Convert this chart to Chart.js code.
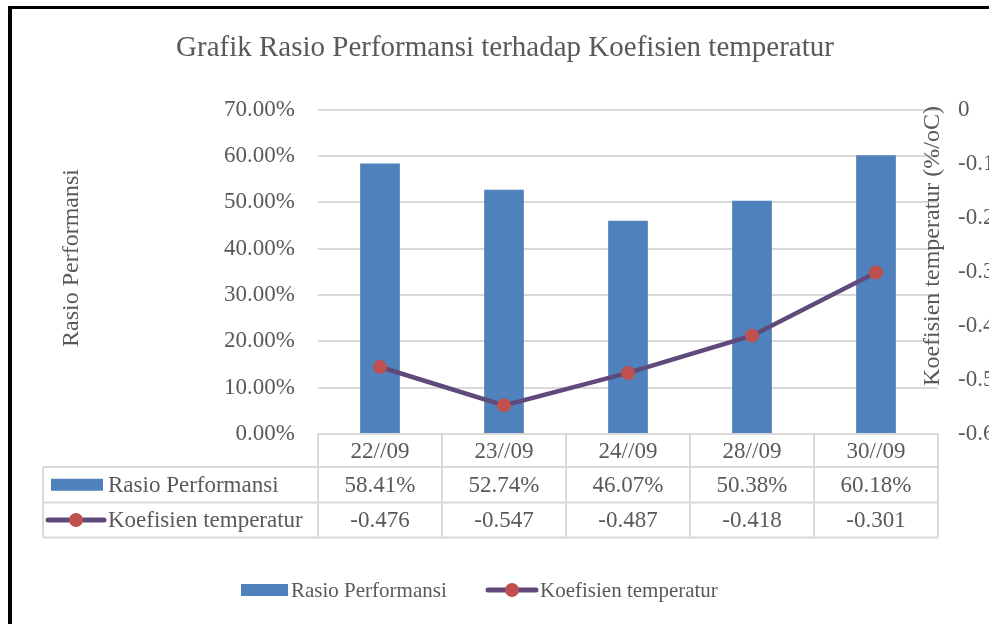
<!DOCTYPE html>
<html>
<head>
<meta charset="utf-8">
<script src="https://cdn.jsdelivr.net/npm/chart.js@4.4.1/dist/chart.umd.min.js"></script>
<style>
  html, body { margin: 0; padding: 0; background: #fff; overflow: hidden; }
  #wrap { position: relative; width: 1010px; height: 624px; }
  #frame { position: absolute; left: 8px; top: 6px; width: 1100px; height: 700px;
           border-left: 4px solid #000; border-top: 3px solid #000; pointer-events: none; }
</style>
</head>
<body>
<div id="wrap">
  <canvas id="place__graph1" width="1010" height="624"></canvas>
  <div id="frame"></div>
</div>
<script>
const categories = ['22//09', '23//09', '24//09', '28//09', '30//09'];
const rasioPerformansi = [58.41, 52.74, 46.07, 50.38, 60.18];
const koefisienTemperatur = [-0.476, -0.547, -0.487, -0.418, -0.301];
const leftTicks = [0, 10, 20, 30, 40, 50, 60, 70];
const rightTicks = [0, -0.1, -0.2, -0.3, -0.4, -0.5, -0.6];

const serif = "'Liberation Serif', 'Times New Roman', serif";
const grey = '#595959';
const gridGrey = '#d9d9d9';

// table under the plot + legend + axis titles, drawn by hand
const tablePlugin = {
    id: 'tablePlugin',
    afterDraw(chart) {
        const ctx = chart.ctx;
        const area = chart.chartArea;
        const xs = chart.scales.x;
        const n = categories.length;
        const colW = (area.right - area.left) / n;
        const top = area.bottom;
        const r1 = top + 33, r2 = r1 + 35.5, r3 = r2 + 35;
        const tableLeft = 43;

        ctx.save();
        ctx.strokeStyle = gridGrey;
        ctx.lineWidth = 2;
        ctx.beginPath();
        ctx.moveTo(area.left, top); ctx.lineTo(area.right, top);
        [r1, r2, r3].forEach(y => { ctx.moveTo(tableLeft, y); ctx.lineTo(area.right, y); });
        ctx.moveTo(tableLeft, r1); ctx.lineTo(tableLeft, r3);
        for (let i = 0; i <= n; i++) {
            const x = area.left + colW * i;
            ctx.moveTo(x, top); ctx.lineTo(x, r3);
        }
        ctx.stroke();

        ctx.fillStyle = grey;
        ctx.font = '23px ' + serif;
        ctx.textAlign = 'center';
        ctx.textBaseline = 'middle';
        categories.forEach((c, i) => {
            const cx = xs.getPixelForValue(i);
            ctx.fillText(c, cx, (top + r1) / 2 + 1);
            ctx.fillText(rasioPerformansi[i].toFixed(2) + '%', cx, (r1 + r2) / 2 + 1);
            ctx.fillText(koefisienTemperatur[i].toFixed(3), cx, (r2 + r3) / 2 + 1);
        });

        // row keys
        ctx.textAlign = 'left';
        ctx.fillStyle = '#4f81bd';
        ctx.fillRect(51, (r1 + r2) / 2 - 6, 52, 12);
        ctx.fillStyle = grey;
        ctx.fillText(chart.data.datasets[1].label, 108, (r1 + r2) / 2 + 1);
        drawLineKey(ctx, 48, 104, (r2 + r3) / 2);
        ctx.fillStyle = grey;
        ctx.fillText(chart.data.datasets[0].label, 108, (r2 + r3) / 2 + 1);

        // bottom legend
        const ly = 590;
        ctx.font = '21px ' + serif;
        ctx.fillStyle = '#4f81bd';
        ctx.fillRect(241, ly - 6, 47, 12);
        ctx.fillStyle = grey;
        ctx.fillText(chart.data.datasets[1].label, 291, ly + 1);
        drawLineKey(ctx, 488, 536, ly);
        ctx.fillStyle = grey;
        ctx.fillText(chart.data.datasets[0].label, 540, ly + 1);

        // axis titles (right one overlaps the plot like in the original)
        ctx.textAlign = 'center';
        ctx.save();
        ctx.font = '24px ' + serif;
        ctx.translate(72, 258);
        ctx.rotate(-Math.PI / 2);
        ctx.fillText('Rasio Performansi', 0, 0);
        ctx.restore();

        ctx.font = '24px ' + serif;
        ctx.translate(933, 246);
        ctx.rotate(-Math.PI / 2);
        ctx.fillText('Koefisien temperatur (%/oC)', 0, 0);
        ctx.restore();
    }
};

function drawLineKey(ctx, x0, x1, y) {
    ctx.save();
    ctx.strokeStyle = '#604a7b';
    ctx.lineWidth = 5;
    ctx.lineCap = 'round';
    ctx.beginPath();
    ctx.moveTo(x0, y); ctx.lineTo(x1, y);
    ctx.stroke();
    ctx.fillStyle = '#c0504d';
    ctx.beginPath();
    ctx.arc((x0 + x1) / 2, y, 7, 0, Math.PI * 2);
    ctx.fill();
    ctx.restore();
}

const ctx = document.getElementById('place__graph1').getContext('2d');
const chart = new Chart(ctx, {
    type: 'bar',
    data: {
        labels: categories,
        datasets: [{
            type: 'line',
            label: 'Koefisien temperatur',
            data: koefisienTemperatur,
            yAxisID: 'y1',
            borderColor: '#604a7b',
            borderWidth: 4.5,
            pointRadius: 7,
            pointBackgroundColor: '#c0504d',
            pointBorderColor: '#c0504d',
            pointBorderWidth: 0,
            tension: 0,
            order: 0
        }, {
            type: 'bar',
            label: 'Rasio Performansi',
            data: rasioPerformansi,
            yAxisID: 'y',
            backgroundColor: '#4f81bd',
            categoryPercentage: 1,
            barPercentage: 0.32,
            order: 1
        }]
    },
    options: {
        responsive: false,
        animation: false,
        layout: { padding: { top: 0, bottom: 0, left: 0, right: 0 } },
        plugins: {
            legend: { display: false },
            tooltip: { enabled: false },
            title: {
                display: true,
                text: 'Grafik Rasio Performansi terhadap Koefisien temperatur',
                color: grey,
                font: { family: serif, size: 29, weight: 'normal' },
                padding: { top: 31, bottom: 44 }
            }
        },
        scales: {
            x: {
                grid: { display: false },
                border: { color: gridGrey, width: 2 },
                ticks: { display: false },
                afterFit(scale) { scale.height = 190; }
            },
            y: {
                position: 'left',
                min: 0, max: 70,
                afterBuildTicks(scale) { scale.ticks = leftTicks.map(v => ({ value: v })); },
                grid: { color: gridGrey, lineWidth: 2, drawTicks: false },
                border: { display: false },
                ticks: {
                    color: grey, padding: 23,
                    font: { family: serif, size: 23 },
                    callback: v => v.toFixed(2) + '%'
                },
                afterFit(scale) { scale.width = 318; }
            },
            y1: {
                position: 'right',
                min: -0.6, max: 0,
                afterBuildTicks(scale) { scale.ticks = rightTicks.map(v => ({ value: v })); },
                grid: { display: false, drawTicks: false },
                border: { display: false },
                ticks: {
                    color: grey, padding: 20,
                    font: { family: serif, size: 23 },
                    callback: v => (v === 0 ? '0' : v.toFixed(1))
                },
                afterFit(scale) { scale.width = 72; }
            }
        }
    },
    plugins: [tablePlugin]
});
</script>
</body>
</html>
